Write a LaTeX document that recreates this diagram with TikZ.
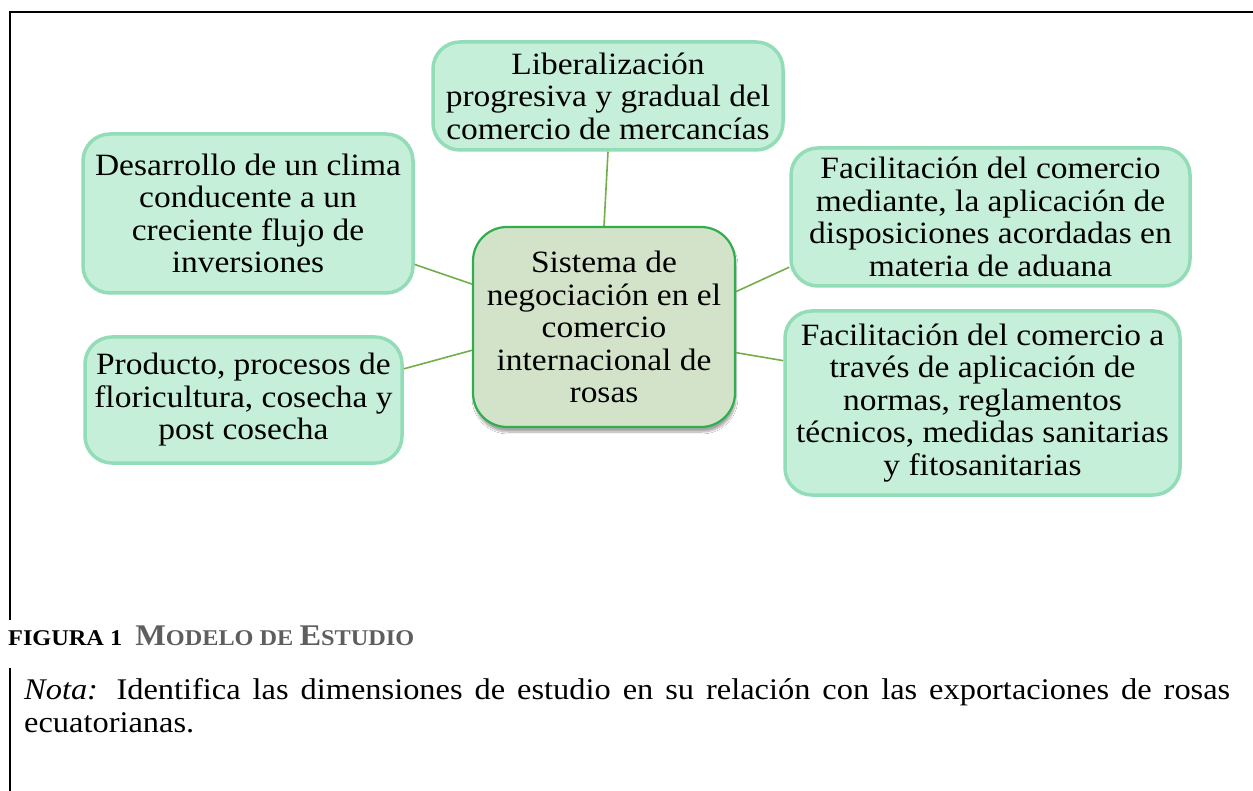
\documentclass[tikz,border=0pt]{standalone}
\usepackage{fontspec}
\setmainfont{Liberation Serif}[FakeStretch=1.08]
\usetikzlibrary{shadows.blur}
\definecolor{outerfill}{HTML}{C5EFD9}
\definecolor{outerdraw}{HTML}{92DDB8}
\definecolor{centerfill}{HTML}{D3E3CA}
\definecolor{centerdraw}{HTML}{30AE4E}
\definecolor{linkcol}{HTML}{74AE4A}
\definecolor{capgray}{HTML}{5E5E5E}
\tikzset{
  txt/.style={font=\fontsize{31}{32.5}\selectfont, align=center, inner sep=0pt},
  outer/.style={txt, draw=outerdraw, fill=outerfill, line width=3.5pt, rounded corners=27pt},
  hub/.style={txt, draw=centerdraw, fill=centerfill, line width=2.2pt, rounded corners=34pt,
    blur shadow={shadow xshift=1pt, shadow yshift=-5pt, shadow blur steps=10, shadow opacity=35}},
  link/.style={draw=linkcol, line width=1.6pt},
  frame/.style={line width=2pt, black}
}
\begin{document}
\begin{tikzpicture}[x=1pt,y=-1pt]
\useasboundingbox (0,0) rectangle (1253,791);
\fill[white] (0,0) rectangle (1253,791);
% frame
\coordinate (ftr) at (1253,12);
\coordinate (ftl) at (10,12);
\coordinate (fbl) at (10,620);
\coordinate (nt) at (10,668);
\coordinate (nb) at (10,791);
\draw[frame] (ftr) -- (ftl) -- (fbl);
\draw[frame] (nt) -- (nb);
% nodes
\node[hub, minimum width=262pt, minimum height=200pt] (c) at (604,327)
  {Sistema de\\negociación en el\\comercio\\internacional de\\rosas};
\node[outer, minimum width=350pt, minimum height=108pt] (lib) at (608,96)
  {Liberalización\\progresiva y gradual del\\comercio de mercancías};
\node[outer, minimum width=330pt, minimum height=159pt] (lt) at (248,213.5)
  {Desarrollo de un clima\\conducente a un\\creciente flujo de\\inversiones};
\node[outer, minimum width=399pt, minimum height=138pt] (rt) at (990.5,217)
  {Facilitación del comercio\\mediante, la aplicación de\\disposiciones acordadas en\\materia de aduana};
\node[outer, minimum width=317pt, minimum height=126pt] (lb) at (243.5,400)
  {Producto, procesos de\\floricultura, cosecha y\\post cosecha};
\node[outer, minimum width=395pt, minimum height=184pt] (rb) at (982.5,403)
  {Facilitación del comercio a\\través de aplicación de\\normas, reglamentos\\técnicos, medidas sanitarias\\y fitosanitarias};
% connectors
\draw[link] (lib.south) -- (c.north);
\draw[link] (lt.-17.3) -- (c.162.1);
\draw[link] (rt.194.9) -- (c.15.8);
\draw[link] (lb.11.4) -- (c.190.9);
\draw[link] (rb.168.5) -- (c.-11.2);
% caption
\node[anchor=base west, inner sep=0pt, font=\bfseries] (cap) at (8,645)
  {\fontsize{22.5}{23}\selectfont FIGURA 1\hspace{13pt}\color{capgray}\fontsize{30}{30}\selectfont M\fontsize{22.5}{23}\selectfont ODELO DE \fontsize{30}{30}\selectfont E\fontsize{22.5}{23}\selectfont STUDIO};
% note
\node[anchor=base west, inner sep=0pt, font=\fontsize{30}{33}\selectfont] (nota1) at (24,699)
  {\makebox[1206pt][s]{\textit{Nota:} Identifica las dimensiones de estudio en su relación con las exportaciones de rosas}};
\node[anchor=base west, inner sep=0pt, font=\fontsize{30}{33}\selectfont] (nota2) at (24,732)
  {ecuatorianas.};
\end{tikzpicture}
\end{document}
